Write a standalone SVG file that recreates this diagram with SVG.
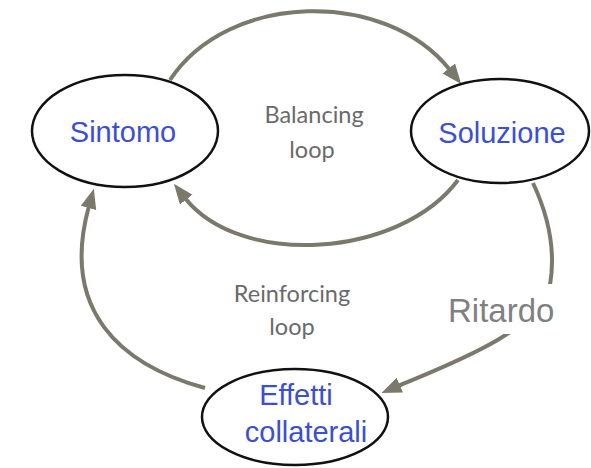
<svg xmlns="http://www.w3.org/2000/svg" width="591" height="468" viewBox="0 0 591 468">
  <style>
    .node ellipse { fill: #ffffff; stroke: #111111; stroke-width: 2.5; }
    .node text { font-family: "Liberation Sans", Arial, sans-serif; font-size: 29px; fill: #3b4fd2; text-anchor: middle; }
    .link { fill: none; stroke: #7b796c; stroke-width: 4; }
    .loop { font-family: Lato, "Open Sans", sans-serif; font-size: 23.5px; fill: #6a6a6a; text-anchor: middle; }
    .delay { font-family: "Liberation Sans", Arial, sans-serif; font-size: 33px; fill: #808080; }
  </style>
  <defs>
    <marker id="head" markerUnits="userSpaceOnUse" markerWidth="22" markerHeight="18" refX="2" refY="8" orient="auto">
      <path d="M0,0 L20,8 L0,16 z" fill="#7b796c"/>
    </marker>
  </defs>

  <!-- connectors -->
  <g id="connectors">
    <path class="link" d="M170,80 C228,-8 385,-12 450,70" marker-end="url(#head)"/>
    <path class="link" d="M458,180 C400,258 240,268 185,198" marker-end="url(#head)"/>
    <path class="link" d="M205,388 C120,365 60,310 89,206" marker-end="url(#head)"/>
    <path class="link" d="M533,183 C548,215 556,250 550,285 C544,330 440,368 398,386" marker-end="url(#head)"/>
    <rect x="440" y="284" width="125" height="50" fill="#ffffff"/>
    <text class="delay" x="448" y="322">Ritardo</text>
  </g>

  <!-- loop labels -->
  <g id="labels">
    <text class="loop" x="314" y="123">Balancing</text>
    <text class="loop" x="312" y="158">loop</text>
    <text class="loop" x="292" y="302">Reinforcing</text>
    <text class="loop" x="292" y="335">loop</text>
  </g>

  <g id="sintomo" class="node">
    <ellipse cx="125" cy="131" rx="93" ry="56"/>
    <text x="123" y="142">Sintomo</text>
  </g>

  <g id="soluzione" class="node">
    <ellipse cx="500" cy="131" rx="89" ry="52"/>
    <text x="502" y="143">Soluzione</text>
  </g>

  <g id="effetti" class="node">
    <ellipse cx="295" cy="417" rx="93" ry="48"/>
    <text x="296" y="405">Effetti</text>
    <text x="306" y="442">collaterali</text>
  </g>
</svg>
